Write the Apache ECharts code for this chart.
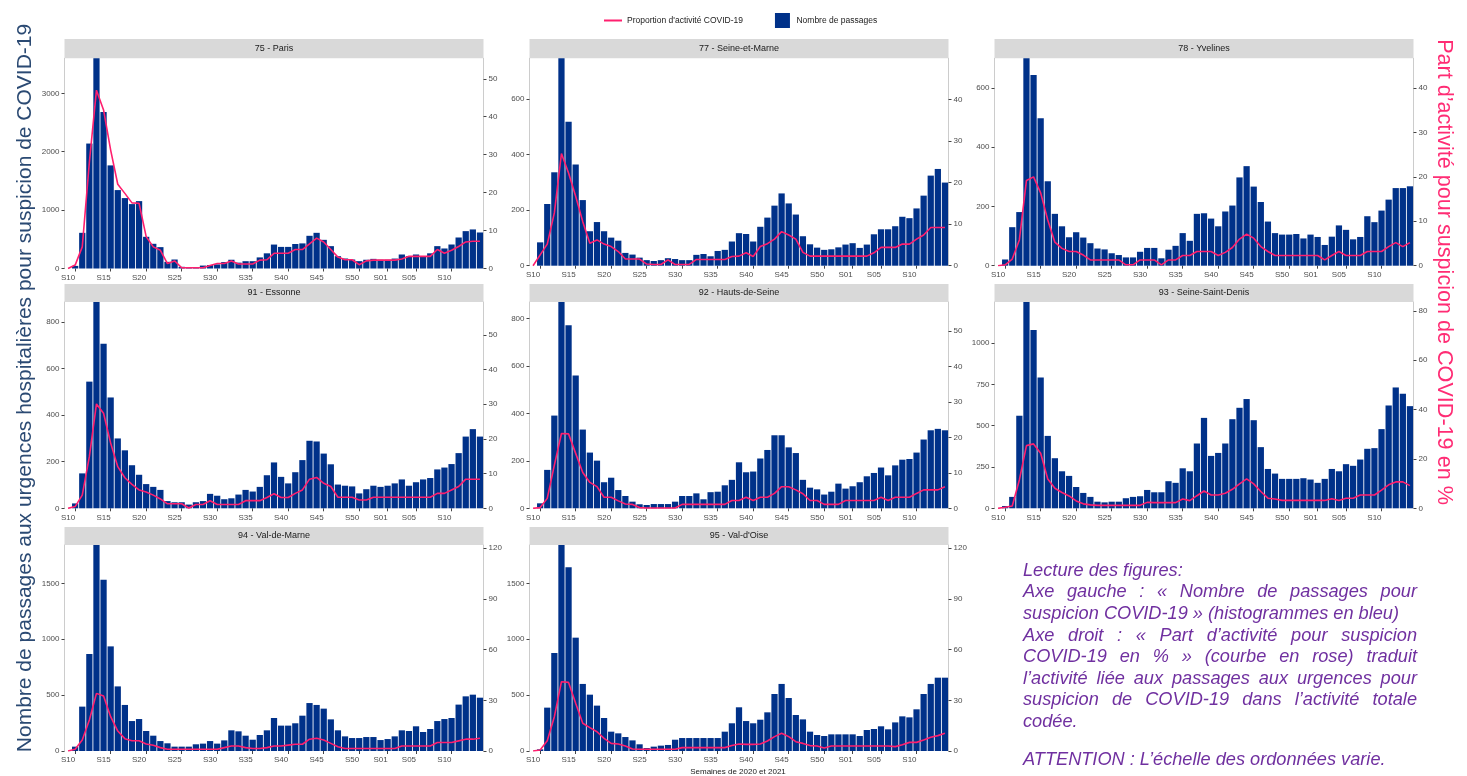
<!DOCTYPE html>
<html>
<head>
<meta charset="utf-8">
<script src="https://cdn.jsdelivr.net/npm/echarts/dist/echarts.min.js"></script>
<style>
html,body{margin:0;padding:0;background:#ffffff;}
#chart{width:1467px;height:776px;}
</style>
</head>
<body>
<div id="chart"></div>
<script>
// ---------- DATA ----------
const weeks = ['S09','S10','S11','S12','S13','S14','S15','S16','S17','S18','S19','S20','S21','S22','S23','S24','S25','S26','S27','S28','S29','S30','S31','S32','S33','S34','S35','S36','S37','S38','S39','S40','S41','S42','S43','S44','S45','S46','S47','S48','S49','S50','S51','S52','S53','S01','S02','S03','S04','S05','S06','S07','S08','S09','S10','S11','S12','S13','S14'];
const tickLabels = ['S10','S15','S20','S25','S30','S35','S40','S45','S50','S01','S05','S10'];
const panelNames = ['75 - Paris','77 - Seine-et-Marne','78 - Yvelines','91 - Essonne','92 - Hauts-de-Seine','93 - Seine-Saint-Denis','94 - Val-de-Marne',"95 - Val-d'Oise"];

const passages75 = [0,45,611,2140,3600,2680,1766,1343,1206,1103,1154,543,423,366,114,154,29,25,25,50,60,70,110,150,100,125,125,190,260,410,370,370,420,430,560,611,491,383,211,171,154,126,150,165,150,150,170,240,210,240,210,260,383,343,411,531,640,669,617];
const part75 = [0,0.9,5.7,28,47,41.8,31.2,22.2,19.8,17.3,17.2,8.4,5.7,4.8,1.3,2.0,0.2,0.2,0.2,0.2,0.8,1.3,1.3,2.0,1.2,1.2,1.2,2.2,2.3,4.0,4.0,4.0,5.0,5.0,6.5,8.0,7.0,5.0,3.0,2.3,2.3,1.0,2.0,2.2,2.2,2.2,2.2,2.5,3.2,3.2,3.2,3.2,5.0,4.0,4.8,5.8,7.0,7.2,7.2];

const passages77 = [0,84,222,336,746,518,364,236,124,157,124,101,90,46,40,29,20,17,20,27,24,20,20,39,42,34,53,57,87,117,114,87,140,173,216,260,224,184,106,77,65,57,59,66,76,81,64,76,113,131,131,142,176,171,206,252,324,348,299];
const part77 = [0,2.6,5.2,12.7,27,22.3,16.7,10.6,5.4,6.2,5.2,4.6,3.4,1.6,1.6,1.6,0.4,0.3,0.3,1.4,0.3,0.3,0.3,1.5,1.5,1.5,1.5,1.5,2.2,2.3,3.1,2.2,4.6,5.3,6.4,8.2,7.4,6.4,3.2,2.3,2.3,2.3,2.3,2.3,2.3,2.3,2.3,2.3,3.1,4.4,4.4,4.4,5.2,5.2,6.4,7.4,9.2,9.2,9.2];

const passages78 = [0,21,130,181,700,644,498,285,175,133,96,113,95,76,58,55,42,36,28,28,47,60,60,25,54,67,110,84,175,177,159,133,183,203,298,336,267,215,149,110,105,105,107,92,105,97,70,98,136,121,89,97,167,147,186,223,262,262,268];
const part78 = [0,0.2,1.5,5.8,19.2,20,16.4,10.3,5.3,3.9,3.2,3.2,2.4,1.3,1.3,1.3,1.3,1.3,0.2,0.2,1.3,1.3,1.3,0.2,1.3,1.3,2.3,2.3,3.2,3.2,3.2,2.3,3.0,4.1,6.0,7.1,6.2,4.3,3.2,2.3,2.3,2.3,2.3,2.3,2.3,2.3,1.3,2.3,3.2,2.3,2.3,2.3,3.2,3.2,3.2,4.3,5.2,4.3,5.2];

const passages91 = [0,21,150,544,886,707,476,300,249,185,144,104,92,79,31,26,26,16,26,31,62,54,39,43,59,79,72,92,142,197,135,107,155,207,290,287,235,189,102,97,94,64,82,97,92,97,107,124,97,112,124,130,167,175,190,237,308,340,308];
const part91 = [0,0.5,3.8,14.9,30.1,27.4,18.8,12,8.8,6.9,5.3,4.7,3.8,2.7,1.3,1.3,1.3,0.1,1.1,1.1,2.2,1.1,1.1,1.1,1.1,2.2,2.2,2.2,3.1,4.2,3.1,3.1,4.3,5.3,8.4,8.9,7.2,6.3,3.2,3.2,3.2,2.4,2.4,3.2,3.2,3.2,3.2,3.2,3.2,3.2,3.2,3.2,4.3,4.3,5.3,6.3,8.4,8.4,8.4];

const passages92 = [0,21,162,391,870,772,560,332,235,201,110,129,77,52,28,17,14,18,18,18,28,52,52,63,38,68,70,97,120,194,152,155,210,246,308,308,257,233,120,87,80,58,70,104,83,93,110,135,149,172,139,181,205,208,235,290,329,335,329];
const part92 = [0,0.2,2.8,12.2,21.1,21,15.5,10.1,7.3,6.1,3.1,3.1,2.1,1.2,1.1,0.2,0.1,0.1,0.1,0.1,0.1,1.1,1.1,1.1,1.1,1.1,1.1,1.1,2.2,2.2,3.1,2.2,3.1,3.1,4.2,6.1,6.1,5.2,4.1,2.2,2.2,1.1,1.1,1.1,2.2,2.2,2.2,2.2,2.2,3.1,2.2,3.1,3.1,3.1,4.2,5.2,5.2,5.2,6.1];

const passages93 = [0,14,69,560,1248,1079,792,438,303,224,196,129,93,69,40,36,40,40,61,69,73,111,97,97,164,154,242,224,392,547,317,335,392,539,608,661,533,370,238,210,178,178,178,182,174,154,178,238,224,267,257,295,360,364,479,622,731,693,618];
const part93 = [0,0.4,0.9,11.5,25.4,26.1,22.3,11.9,8.1,6.4,5.0,3.0,1.8,1.4,1.2,1.2,1.2,1.2,1.2,1.2,1.2,2.4,2.3,2.3,2.3,2.3,3.8,3.1,5.1,7.0,5.4,5.4,6.1,7.7,9.9,11.9,9.9,6.8,4.1,3.8,3.2,3.2,3.2,3.2,3.2,3.2,3.2,3.9,3.2,4.1,4.1,5.4,5.4,5.4,7.4,9.5,10.7,10.7,9.2];

const passages94 = [0,39,397,868,1843,1533,936,578,412,268,286,179,137,89,69,39,39,39,60,66,89,66,95,185,176,137,101,143,185,295,227,227,248,316,429,412,379,283,185,131,116,116,125,125,98,107,131,185,179,221,170,197,268,286,295,415,489,504,477];
const part94 = [0,1,6.5,18.3,34.1,32.5,20.3,11.8,7.3,6.1,6.1,4.1,3.4,2.0,1.0,1.0,1.0,1.0,1.0,1.0,1.0,1.0,2.0,3.0,3.0,2.0,1.5,1.5,2.0,3.0,3.0,3.5,4.0,4.0,7.0,7.5,6.5,4.5,2.5,1.5,1.5,1.5,1.5,1.5,1.5,1.5,1.5,3.0,3.0,3.0,3.0,3.0,5.0,5.0,5.0,6.0,7.0,7.0,7.5];

const passages95 = [0,15,388,877,1843,1643,1014,600,504,406,295,173,158,125,95,60,27,39,48,54,101,116,116,116,116,116,116,173,248,391,268,248,280,346,510,600,474,322,283,173,143,134,149,149,149,149,134,188,197,221,194,256,310,301,373,510,600,656,656];
const part95 = [0,0.6,6.1,20.3,41,40.6,28.2,16.4,13.8,11.4,7.5,4.5,4.1,3.0,1.2,1.0,1.0,1.0,1.0,1.0,1.0,2.0,2.0,2.0,2.0,2.0,2.0,2.0,3.2,4.1,3.9,3.9,4.1,5.9,8.5,10.5,8.5,5.5,4.5,3.2,3.0,1.8,3.0,3.0,3.0,3.0,3.0,3.0,3.0,3.0,3.0,2.6,3.7,5.1,5.1,6.5,8.1,9.1,10.5];

const passagesAll = [passages75,passages77,passages78,passages91,passages92,passages93,passages94,passages95];
const partAll = [part75,part77,part78,part91,part92,part93,part94,part95];

// axis ranges and tick labels per panel
const leftMax = [3600,746,700,886,870,1248,1843,1843];
const leftTicks = [[0,1000,2000,3000],[0,200,400,600],[0,200,400,600],[0,200,400,600,800],[0,200,400,600,800],[0,250,500,750,1000],[0,500,1000,1500],[0,500,1000,1500]];
const rightMax = [55.4,49.9,46.7,59.5,58.2,83.6,121.9,121.9];
const rightTicks = [[0,10,20,30,40,50],[0,10,20,30,40],[0,10,20,30,40],[0,10,20,30,40,50],[0,10,20,30,40,50],[0,20,40,60,80],[0,30,60,90,120],[0,30,60,90,120]];

const BAR_NAME = 'Nombre de passages';
const LINE_NAME = "Proportion d'activité COVID-19";

const noteLines = [
  ['Lecture des figures:', false],
  ['Axe gauche : « Nombre de passages pour', true],
  ['suspicion COVID-19 » (histogrammes en bleu)', false],
  ['Axe droit : « Part d’activité pour suspicion', true],
  ['COVID-19 en % » (courbe en rose) traduit', true],
  ['l’activité liée aux passages aux urgences pour', true],
  ['suspicion de COVID-19 dans l’activité totale', true],
  ['codée.', false],
  ['ATTENTION : L’échelle des ordonnées varie.', false]
];

// ---------- LAYOUT ----------
const FONT = '"Liberation Sans", Arial, Helvetica, sans-serif';
const BAR_COLOR = '#003189';
const LINE_COLOR = '#ff1f6e';
const colLeft = [64.5, 529.5, 994.5];
const panelW = 419;
const stripTop = [39, 284, 527];
const gridTop = [58.3, 302, 545];
const gridBottom = [268.5, 265.7, 265.7, 508.3, 508.3, 508.3, 751, 751];

const grids = [], xAxes = [], yAxes = [], series = [], graphics = [];

for (let k = 0; k < panelNames.length; k++) {
  const c = k % 3, r = Math.floor(k / 3);
  const top = gridTop[r];
  const h = gridBottom[k] - top;
  grids.push({left: colLeft[c], top: top, width: panelW, height: h, containLabel: false});

  const showTick = (idx, val) => tickLabels.indexOf(val) >= 0;
  xAxes.push({
    type: 'category', gridIndex: k, data: weeks, boundaryGap: true,
    axisLine: {show: false},
    axisTick: {show: true, alignWithLabel: true, interval: showTick, length: 3, lineStyle: {color: '#444', width: 1}},
    axisLabel: {show: true, interval: showTick, align: 'right', margin: 5, fontSize: 8, color: '#4d4d4d', fontFamily: FONT},
    splitLine: {show: false}
  });

  const lt = leftTicks[k], rt = rightTicks[k];
  yAxes.push({
    type: 'value', gridIndex: k, position: 'left', min: 0, max: leftMax[k], interval: lt[1] - lt[0],
    axisLine: {show: true, lineStyle: {color: '#cccccc', width: 1}},
    axisTick: {show: true, length: 3, customValues: lt, lineStyle: {color: '#444'}},
    axisLabel: {show: true, customValues: lt, margin: 5, fontSize: 8, color: '#4d4d4d', fontFamily: FONT,
      formatter: v => lt.indexOf(v) >= 0 ? String(v) : ''},
    splitLine: {show: false}
  });
  yAxes.push({
    type: 'value', gridIndex: k, position: 'right', min: 0, max: rightMax[k], interval: rt[1] - rt[0],
    axisLine: {show: true, lineStyle: {color: '#cccccc', width: 1}},
    axisTick: {show: true, length: 3, customValues: rt, lineStyle: {color: '#444'}},
    axisLabel: {show: true, customValues: rt, margin: 5, fontSize: 8, color: '#4d4d4d', fontFamily: FONT,
      formatter: v => rt.indexOf(v) >= 0 ? String(v) : ''},
    splitLine: {show: false}
  });

  series.push({
    type: 'bar', name: BAR_NAME, xAxisIndex: k, yAxisIndex: 2 * k,
    data: passagesAll[k], barCategoryGap: '12%',
    itemStyle: {color: BAR_COLOR}, silent: true
  });
  series.push({
    type: 'line', name: LINE_NAME, xAxisIndex: k, yAxisIndex: 2 * k + 1,
    data: partAll[k], symbol: 'none', smooth: false,
    lineStyle: {color: LINE_COLOR, width: 1.6}, itemStyle: {color: LINE_COLOR}, silent: true
  });

  // facet strip
  graphics.push({
    type: 'rect', shape: {x: colLeft[c], y: stripTop[r], width: panelW, height: top - stripTop[r]},
    style: {fill: '#d9d9d9'}, silent: true
  });
  graphics.push({
    type: 'text', x: colLeft[c] + panelW / 2, y: (stripTop[r] + top) / 2,
    style: {text: panelNames[k], fontSize: 9, fontFamily: FONT, fill: '#1a1a1a', align: 'center', verticalAlign: 'middle'},
    silent: true
  });
}

// big axis titles
graphics.push({
  type: 'text', x: 25, y: 388, rotation: Math.PI / 2,
  style: {text: 'Nombre de passages aux urgences hospitalières pour suspicion de COVID-19', fontSize: 21, fontFamily: FONT,
    fill: '#2b4a73', align: 'center', verticalAlign: 'middle'}, silent: true
});
graphics.push({
  type: 'text', x: 1444, y: 272, rotation: -Math.PI / 2,
  style: {text: 'Part d’activité pour suspicion de COVID-19 en %', fontSize: 21.6, fontFamily: FONT,
    fill: '#ff2c74', align: 'center', verticalAlign: 'middle'}, silent: true
});
graphics.push({
  type: 'text', x: 738, y: 772,
  style: {text: 'Semaines de 2020 et 2021', fontSize: 8, fontFamily: FONT, fill: '#1a1a1a', align: 'center', verticalAlign: 'middle'},
  silent: true
});

// justified note block
(function () {
  const fs = 18.2;
  const x0 = 1023, x1 = 1417;
  const ys = [570.7, 592.3, 614, 635.7, 657, 678.5, 700, 721.5, 760];
  const ctx = document.createElement('canvas').getContext('2d');
  ctx.font = 'italic ' + fs + 'px ' + FONT;
  const base = {fontSize: fs, fontStyle: 'italic', fontFamily: FONT, fill: '#7030a0', verticalAlign: 'middle', align: 'left'};
  noteLines.forEach((ln, i) => {
    const txt = ln[0], just = ln[1];
    if (!just) {
      graphics.push({type: 'text', x: x0, y: ys[i], style: Object.assign({text: txt}, base), silent: true});
      return;
    }
    const words = txt.split(' ');
    const ws = words.map(w => ctx.measureText(w).width);
    const total = ws.reduce((a, b) => a + b, 0);
    const gap = (x1 - x0 - total) / (words.length - 1);
    let x = x0;
    words.forEach((w, j) => {
      graphics.push({type: 'text', x: x, y: ys[i], style: Object.assign({text: w}, base), silent: true});
      x += ws[j] + gap;
    });
  });
})();

const chart = echarts.init(document.getElementById('chart'), null, {renderer: 'canvas'});
chart.setOption({
  backgroundColor: '#ffffff',
  animation: false,
  textStyle: {fontFamily: FONT},
  legend: {
    left: 599, top: 8, itemWidth: 18, itemHeight: 15, itemGap: 32, symbolKeepAspect: true,
    textStyle: {fontSize: 8.5, color: '#1a1a1a', fontFamily: FONT},
    data: [
      {name: LINE_NAME, icon: 'path://M0,0H18V2H0Z'},
      {name: BAR_NAME, icon: 'path://M0,0H15V15H0Z'}
    ],
    selectedMode: false
  },
  grid: grids,
  xAxis: xAxes,
  yAxis: yAxes,
  series: series,
  graphic: graphics
});
</script>
</body>
</html>
